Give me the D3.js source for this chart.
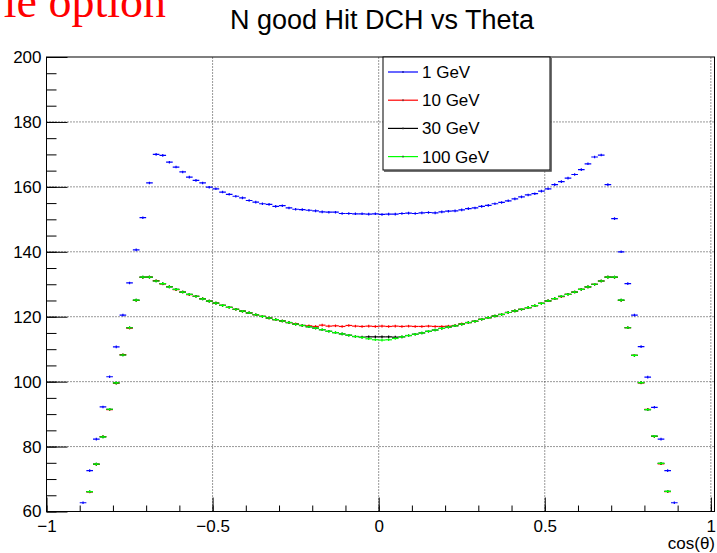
<!DOCTYPE html>
<html>
<head>
<meta charset="utf-8">
<script src="https://cdn.jsdelivr.net/npm/d3@7"></script>
<style>
  body { margin: 0; background: #fff; }
  text { font-family: "Liberation Sans", Arial, sans-serif; }
</style>
</head>
<body>
<script>
// histogram binning (cos theta), 90 filled bins of width 0.02 from -0.9 to 0.9
var binLow = -0.9;
var binWidth = 0.02;
var errHalf = 0.4;   // half length of the vertical error bar

var series = ["1 GeV", "10 GeV", "30 GeV", "100 GeV"];
var colors = ["#0000ff", "#ff0000", "#000000", "#00ff00"];

var hits1GeV = [
  62.7, 72.6, 82.3, 92.2, 101.5, 110.7, 120.5, 130.4, 140.6, 150.5,
  161.2, 170.0, 169.7, 167.6, 166.1, 164.6, 163.0, 162.0, 161.2, 159.9,
  159.4, 158.4, 157.7, 157.1, 156.6, 155.8, 155.3, 154.8, 154.6, 154.0,
  154.2, 153.5, 153.1, 153.0, 152.8, 152.6, 152.3, 152.2, 152.2, 151.8,
  151.8, 151.7, 151.7, 151.6, 151.7, 151.5, 151.6, 151.6, 151.8, 151.9,
  151.8, 152.0, 152.1, 152.0, 152.3, 152.5, 152.6, 152.9, 153.3, 153.5,
  154.0, 154.3, 154.8, 155.2, 155.7, 156.3, 156.9, 157.5, 157.9, 158.7,
  159.4, 160.7, 161.6, 162.7, 163.8, 165.3, 167.1, 169.2, 169.8, 160.7,
  150.2, 140.0, 130.2, 120.5, 110.8, 101.4, 92.1, 82.3, 72.6, 62.7
];

var hits10GeV = [
  57.5, 66.0, 74.5, 83.1, 91.4, 99.5, 108.3, 116.5, 125.0, 132.1,
  132.2, 131.1, 130.1, 129.3, 128.3, 127.6, 126.8, 126.3, 125.6, 124.8,
  124.2, 123.5, 122.9, 122.3, 121.7, 121.2, 120.6, 120.1, 119.6, 119.1,
  118.7, 118.2, 117.8, 117.3, 117.2, 117.0, 117.4, 117.1, 117.2, 117.0,
  117.3, 117.1, 117.0, 117.1, 117.0, 117.1, 117.0, 117.1, 117.0, 117.1,
  117.0, 117.0, 117.1, 117.0, 117.0, 117.1, 117.3, 117.8, 118.2, 118.6,
  119.2, 119.7, 120.2, 120.7, 121.3, 121.8, 122.3, 122.8, 123.4, 124.1,
  124.9, 125.6, 126.2, 126.9, 127.6, 128.4, 129.2, 130.0, 131.0, 132.2,
  132.1, 125.0, 116.6, 108.1, 99.6, 91.5, 83.1, 74.7, 66.1, 57.5
];

var hits30GeV = [
  57.6, 66.1, 74.6, 83.0, 91.5, 99.6, 108.2, 116.6, 125.1, 132.2,
  132.2, 131.0, 130.2, 129.2, 128.4, 127.6, 126.9, 126.3, 125.5, 124.8,
  124.2, 123.5, 122.9, 122.3, 121.7, 121.2, 120.6, 120.1, 119.6, 119.1,
  118.7, 118.2, 117.7, 117.3, 116.9, 116.5, 116.0, 115.5, 115.1, 114.7,
  114.3, 113.9, 113.7, 113.8, 113.8, 113.8, 113.8, 113.7, 113.8, 114.2,
  114.6, 115.0, 115.5, 115.9, 116.4, 116.8, 117.2, 117.7, 118.2, 118.6,
  119.2, 119.7, 120.2, 120.7, 121.3, 121.8, 122.3, 122.8, 123.4, 124.1,
  124.9, 125.6, 126.3, 126.9, 127.6, 128.4, 129.2, 130.0, 131.0, 132.2,
  132.2, 125.1, 116.6, 108.1, 99.7, 91.4, 83.2, 74.8, 66.2, 57.6
];

var hits100GeV = [
  57.6, 66.1, 74.6, 83.0, 91.5, 99.6, 108.2, 116.6, 125.1, 132.2,
  132.2, 131.0, 130.2, 129.2, 128.4, 127.6, 126.9, 126.3, 125.5, 124.8,
  124.2, 123.5, 122.9, 122.3, 121.7, 121.2, 120.6, 120.1, 119.6, 119.1,
  118.7, 118.2, 117.7, 117.3, 116.9, 116.5, 116.0, 115.5, 115.1, 114.7,
  114.3, 113.9, 113.6, 113.2, 112.9, 112.8, 112.9, 113.3, 113.8, 114.2,
  114.6, 115.0, 115.5, 115.9, 116.4, 116.8, 117.2, 117.7, 118.2, 118.6,
  119.2, 119.7, 120.2, 120.7, 121.3, 121.8, 122.3, 122.8, 123.4, 124.1,
  124.9, 125.6, 126.3, 126.9, 127.6, 128.4, 129.2, 130.0, 131.0, 132.2,
  132.2, 125.1, 116.6, 108.1, 99.7, 91.4, 83.2, 74.8, 66.2, 57.6
];

var allHits = [hits1GeV, hits10GeV, hits30GeV, hits100GeV];

var xMajor = [-1, -0.5, 0, 0.5, 1];
var yMajor = [60, 80, 100, 120, 140, 160, 180, 200];

//Width and height
var w = 717;
var h = 553;

var svg = d3.select("body")
            .append("svg")
            .attr("width", w)
            .attr("height", h);

var x = d3.scaleLinear().domain([-1, 1.011]).range([46.5, 714.5]);
var y = d3.scaleLinear().domain([60, 200]).range([511.5, 57]);

// clip for the frame
svg.append("clipPath").attr("id", "frame")
   .append("rect")
   .attr("x", x(-1)).attr("y", y(200))
   .attr("width", x(1.011) - x(-1))
   .attr("height", y(60) - y(200));

// grid (dotted)
svg.append("g")
   .selectAll("line")
   .data(xMajor.slice(1))
   .enter()
   .append("line")
   .attr("x1", function(d) { return x(d); })
   .attr("x2", function(d) { return x(d); })
   .attr("y1", y(60))
   .attr("y2", y(200))
   .attr("stroke", "#333")
   .attr("stroke-dasharray", "1,2");

svg.append("g")
   .selectAll("line")
   .data(yMajor.slice(1, -1))
   .enter()
   .append("line")
   .attr("x1", x(-1))
   .attr("x2", x(1.011))
   .attr("y1", function(d) { return y(d); })
   .attr("y2", function(d) { return y(d); })
   .attr("stroke", "#333")
   .attr("stroke-dasharray", "1,2");

// axes
var xMinor = d3.range(-10, 11).map(function(i) { return i / 10; });
var yMinor = d3.range(60, 201, 5);

svg.append("g")
   .attr("transform", "translate(0," + y(60) + ")")
   .call(d3.axisBottom(x).tickValues(xMinor).tickSize(-6).tickFormat(""))
   .call(function(g) { g.select(".domain").remove(); });

svg.append("g")
   .attr("class", "xaxis")
   .attr("transform", "translate(0," + y(60) + ")")
   .call(d3.axisBottom(x).tickValues(xMajor).tickSize(-14).tickPadding(8)
           .tickFormat(d3.format("~g")))
   .call(function(g) { g.select(".domain").remove(); });

svg.append("g")
   .attr("transform", "translate(" + x(-1) + ",0)")
   .call(d3.axisLeft(y).tickValues(yMinor).tickSize(-10).tickFormat(""))
   .call(function(g) { g.select(".domain").remove(); });

svg.append("g")
   .attr("class", "yaxis")
   .attr("transform", "translate(" + x(-1) + ",0)")
   .call(d3.axisLeft(y).tickValues(yMajor).tickSize(-21).tickPadding(5))
   .call(function(g) { g.select(".domain").remove(); });

svg.selectAll(".xaxis text, .yaxis text")
   .attr("font-size", 17)
   .attr("fill", "#000")
   .style("font-family", "Liberation Sans, Arial, sans-serif");
svg.selectAll(".tick line").attr("stroke", "#000");

// histograms
var plot = svg.append("g").attr("clip-path", "url(#frame)");

allHits.forEach(function(vals, s) {
  var g = plot.append("g").attr("stroke", colors[s]).attr("stroke-width", 1.2);
  g.selectAll("line.h")
   .data(vals)
   .enter()
   .append("line")
   .attr("class", "h")
   .attr("x1", function(d, i) { return x(binLow + i * binWidth); })
   .attr("x2", function(d, i) { return x(binLow + (i + 1) * binWidth); })
   .attr("y1", function(d) { return y(d); })
   .attr("y2", function(d) { return y(d); });
  g.selectAll("line.e")
   .data(vals)
   .enter()
   .append("line")
   .attr("class", "e")
   .attr("x1", function(d, i) { return x(binLow + (i + 0.5) * binWidth); })
   .attr("x2", function(d, i) { return x(binLow + (i + 0.5) * binWidth); })
   .attr("y1", function(d) { return y(d - errHalf); })
   .attr("y2", function(d) { return y(d + errHalf); });
});

// frame
svg.append("rect")
   .attr("x", x(-1))
   .attr("y", y(200))
   .attr("width", x(1.011) - x(-1))
   .attr("height", y(60) - y(200))
   .attr("fill", "none")
   .attr("stroke", "#000");

// legend
var lg = svg.append("g");
lg.append("rect")
  .attr("x", 383).attr("y", 57)
  .attr("width", 167).attr("height", 113)
  .attr("fill", "#fff")
  .attr("stroke", "#000");
lg.append("polyline")
  .attr("points", "551,58 551,171 384,171")
  .attr("fill", "none")
  .attr("stroke", "#444")
  .attr("stroke-width", 1.5);

var entry = lg.selectAll("g.entry")
  .data(series)
  .enter()
  .append("g")
  .attr("class", "entry")
  .attr("transform", function(d, i) { return "translate(0," + (72 + i * 28.2) + ")"; });

entry.append("line")
  .attr("x1", 388).attr("x2", 418)
  .attr("stroke", function(d, i) { return colors[i]; })
  .attr("stroke-width", 1.2);
entry.append("line")
  .attr("x1", 403).attr("x2", 403)
  .attr("y1", -1).attr("y2", 1)
  .attr("stroke", function(d, i) { return i == 0 ? "#000080" : "#333"; });
entry.append("text")
  .attr("x", 422)
  .attr("y", 6)
  .attr("font-size", 17)
  .text(function(d) { return d; });

// titles
svg.append("text")
   .attr("x", 382)
   .attr("y", 29)
   .attr("text-anchor", "middle")
   .attr("font-size", 27)
   .text("N good Hit DCH vs Theta");

svg.append("text")
   .attr("x", 715)
   .attr("y", 549)
   .attr("text-anchor", "end")
   .attr("font-size", 17)
   .text("cos(\u03b8)");

svg.append("text")
   .attr("x", 166)
   .attr("y", 17)
   .attr("text-anchor", "end")
   .attr("font-size", 46)
   .attr("fill", "#ff0000")
   .style("font-family", "Liberation Serif, Times New Roman, serif")
   .text("le option");
</script>
</body>
</html>
